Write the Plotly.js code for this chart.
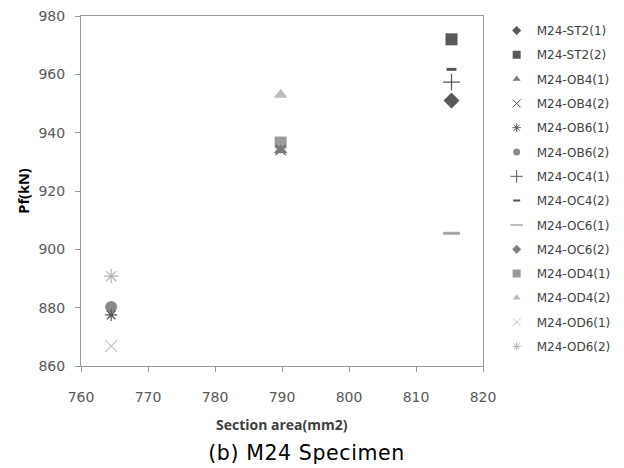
<!DOCTYPE html>
<html>
<head>
<meta charset="utf-8">
<script src="https://cdn.plot.ly/plotly-3.0.1.min.js"></script>
<style>
  html, body { margin: 0; padding: 0; background: #ffffff; }
  #chart { width: 624px; height: 468px; }
  #chart .annotation.caption .annotation-text { letter-spacing: 0.6px; }
</style>
</head>
<body>
<div id="chart"></div>
<script>
// Specimen series: name, section area (mm2), failure load Pf (kN)
const seriesNames = [
  'M24-ST2(1)', 'M24-ST2(2)', 'M24-OB4(1)', 'M24-OB4(2)', 'M24-OB6(1)',
  'M24-OB6(2)', 'M24-OC4(1)', 'M24-OC4(2)', 'M24-OC6(1)', 'M24-OC6(2)',
  'M24-OD4(1)', 'M24-OD4(2)', 'M24-OD6(1)', 'M24-OD6(2)'
];
const sectionArea = [
  815.3, 815.3, 789.8, 789.8, 764.5,
  764.5, 815.3, 815.3, 815.3, 815.3,
  789.8, 789.8, 764.5, 764.5
];
const failureLoad = [
  951, 972, 934, 934, 877.5,
  880.2, 957.3, 961.7, 905.5, 951,
  936.6, 953, 866.8, 890.8
];

// Marker styling per series (plot size / legend size)
const symbols = [
  'diamond', 'square', 'triangle-up', 'x-thin-open', 'asterisk-open',
  'circle', 'cross-thin-open', 'line-ew-open', 'line-ew-open', 'diamond',
  'square', 'triangle-up', 'x-thin-open', 'asterisk-open'
];
const colors = [
  '#595959', '#595959', '#7a7a7a', '#555555', '#555555',
  '#8a8a8a', '#595959', '#555555', '#a6a6a6', '#7f7f7f',
  '#9a9a9a', '#bdbdbd', '#c6c6c6', '#b4b4b4'
];
const sizes = [12, 12, 12, 10, 10, 12, 12, 7, 12, 12, 12, 12, 12, 12];
const legendSizes = [7, 8, 7, 8, 7, 7, 9, 5, 9, 7, 8, 7, 8, 7];
const lineWidths = [0, 0, 0, 1.2, 1.2, 0, 1.2, 3, 3, 0, 0, 0, 1.2, 1.2];
const legendLineWidths = [0, 0, 0, 1, 1, 0, 1, 2, 1.5, 0, 0, 0, 1, 1];

// Plotted points (drawn back-to-front so the darker markers sit on top)
const order = [13, 12, 11, 10, 9, 8, 7, 6, 5, 4, 3, 2, 1, 0];
const pointTraces = order.map(i => ({
  type: 'scatter',
  mode: 'markers',
  name: seriesNames[i],
  showlegend: false,
  x: [sectionArea[i]],
  y: [failureLoad[i]],
  marker: {
    symbol: symbols[i],
    size: sizes[i],
    color: colors[i],
    line: { color: colors[i], width: lineWidths[i] }
  }
}));

// Legend entries with the compact legend-sized symbols
const legendTraces = seriesNames.map((name, i) => ({
  type: 'scatter',
  mode: 'markers',
  name: name,
  legendgroup: 'g' + i,
  x: [null],
  y: [null],
  marker: {
    symbol: symbols[i],
    size: legendSizes[i],
    color: colors[i],
    line: { color: colors[i], width: legendLineWidths[i] }
  }
}));

const axisCommon = {
  showgrid: false,
  zeroline: false,
  showline: true,
  linecolor: '#9a9a9a',
  linewidth: 1,
  mirror: true,
  ticks: 'outside',
  ticklen: 5,
  tickcolor: '#9a9a9a',
  tickfont: { family: 'DejaVu Sans, sans-serif', size: 14, color: '#595959' }
};

const layout = {
  width: 624,
  height: 468,
  margin: { l: 81, r: 141, t: 16, b: 102, autoexpand: false },
  paper_bgcolor: '#ffffff',
  plot_bgcolor: '#ffffff',
  showlegend: true,
  xaxis: Object.assign({}, axisCommon, {
    range: [760, 820],
    dtick: 10,
    tick0: 760,
    ticklabelstandoff: 13
  }),
  yaxis: Object.assign({}, axisCommon, {
    range: [860, 980],
    dtick: 20,
    tick0: 860,
    ticklabelstandoff: 7,
    title: {
      text: 'Pf(kN)',
      font: { family: 'Open Sans, sans-serif', size: 14.5, color: '#000000', weight: 'bold' },
      standoff: 5
    }
  }),
  legend: {
    x: 1.034,
    xanchor: 'left',
    y: 1.0,
    yanchor: 'top',
    maxheight: 460,
    traceorder: 'grouped',
    tracegroupgap: 5.3,
    itemwidth: 30,
    font: { family: 'DejaVu Sans, sans-serif', size: 12, color: '#404040' },
    bgcolor: 'rgba(0,0,0,0)'
  },
  annotations: [
    {
      // x-axis title
      text: '<b>Section area(mm2)</b>',
      xref: 'paper', yref: 'paper',
      x: 0.5, y: -0.166,
      xanchor: 'center', yanchor: 'middle',
      showarrow: false,
      font: { family: 'Open Sans, sans-serif', size: 14, color: '#404040' }
    },
    {
      // figure caption
      text: '(b) M24 Specimen',
      xref: 'paper', yref: 'paper',
      x: 0.562, y: -0.249,
      xanchor: 'center', yanchor: 'middle',
      showarrow: false,
      font: { family: 'DejaVu Sans, sans-serif', size: 20.5, color: '#000000' }
    }
  ]
};

Plotly.newPlot('chart', pointTraces.concat(legendTraces), layout,
  { displayModeBar: false, staticPlot: true }).then(gd => {
    // give the caption a little extra tracking
    const caps = gd.querySelectorAll('.annotation');
    const cap = caps[caps.length - 1];
    if (cap) cap.classList.add('caption');
  });
</script>
</body>
</html>
